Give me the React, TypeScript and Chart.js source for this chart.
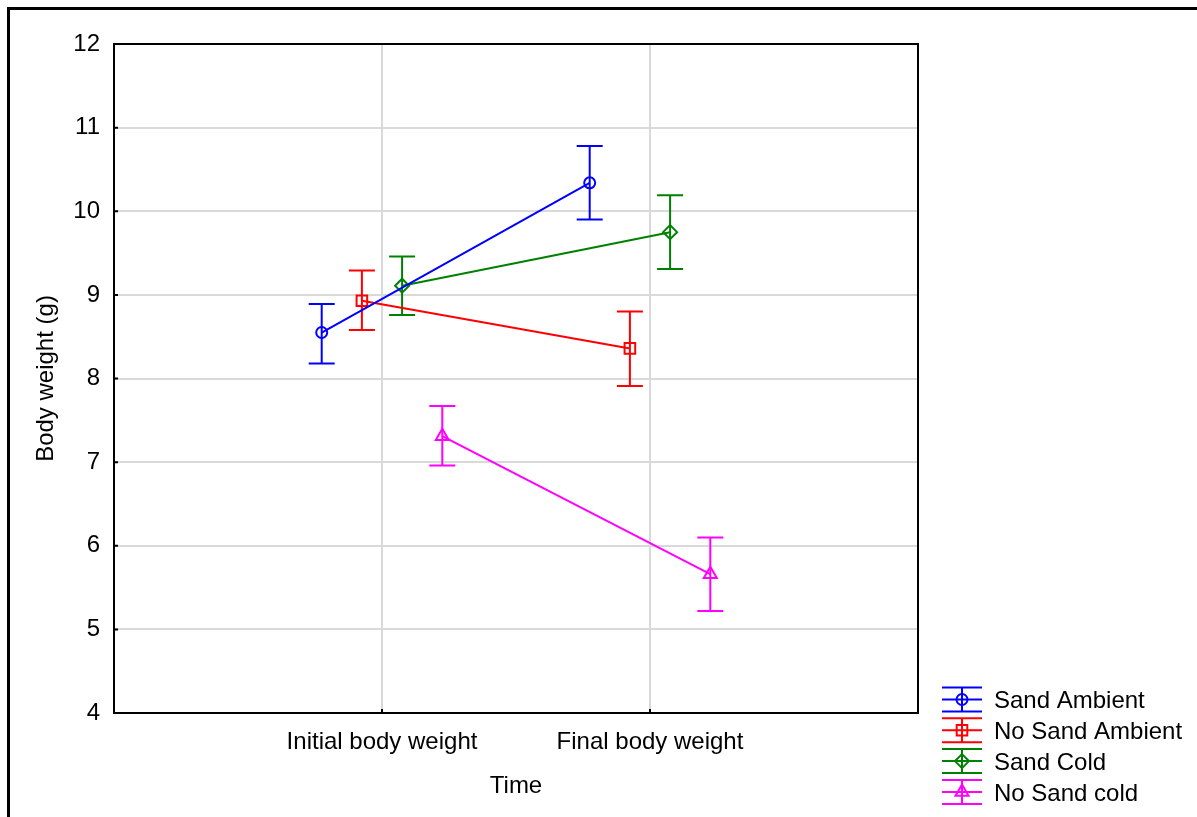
import React, { useEffect, useRef } from 'react';
import { Chart, registerables } from 'chart.js';

Chart.register(...registerables);

// ---------- data ----------
const timeLabels = ['Initial body weight', 'Final body weight'];
const timePositions = [1, 2];
const seriesNames = ['Sand Ambient', 'No Sand Ambient', 'Sand Cold', 'No Sand cold'];
const seriesOffsets = [-0.225, -0.075, 0.075, 0.225];

const sandAmbientMean = [8.55, 10.34];
const sandAmbientLow = [8.18, 9.9];
const sandAmbientHigh = [8.89, 10.78];

const noSandAmbientMean = [8.93, 8.36];
const noSandAmbientLow = [8.58, 7.91];
const noSandAmbientHigh = [9.29, 8.8];

const sandColdMean = [9.11, 9.75];
const sandColdLow = [8.76, 9.31];
const sandColdHigh = [9.46, 10.19];

const noSandColdMean = [7.31, 5.66];
const noSandColdLow = [6.96, 5.22];
const noSandColdHigh = [7.67, 6.1];

const yMin = 4;
const yMax = 12;
const xMin = 0;
const xMax = 3;

// ---------- styles ----------
const FONT = "'Liberation Sans', Arial, Helvetica, sans-serif";
const colors = ['#0000ff', '#ff0000', '#008000', '#ff00ff'];
const pointStyles = ['circle', 'rect', 'rectRot', 'triangle'];
const pointRadii = [5.5, 7.5, 7, 7.5];

const means = [sandAmbientMean, noSandAmbientMean, sandColdMean, noSandColdMean];
const lows = [sandAmbientLow, noSandAmbientLow, sandColdLow, noSandColdLow];
const highs = [sandAmbientHigh, noSandAmbientHigh, sandColdHigh, noSandColdHigh];

function drawMarker(ctx: CanvasRenderingContext2D, style: string, x: number, y: number) {
  ctx.beginPath();
  if (style === 'circle') {
    ctx.arc(x, y, 5.5, 0, Math.PI * 2);
  } else if (style === 'rect') {
    ctx.rect(x - 5.3, y - 5.3, 10.6, 10.6);
  } else if (style === 'rectRot') {
    ctx.moveTo(x, y - 7);
    ctx.lineTo(x + 7, y);
    ctx.lineTo(x, y + 7);
    ctx.lineTo(x - 7, y);
    ctx.closePath();
  } else {
    const r = 7.5;
    ctx.moveTo(x, y - r);
    ctx.lineTo(x + r * Math.sin((2 * Math.PI) / 3), y - r * Math.cos((2 * Math.PI) / 3));
    ctx.lineTo(x + r * Math.sin((4 * Math.PI) / 3), y - r * Math.cos((4 * Math.PI) / 3));
    ctx.closePath();
  }
  ctx.stroke();
}

const errorBarPlugin = {
  id: 'errorBars',
  beforeDatasetsDraw(chart: any) {
    const { ctx, scales } = chart;
    const xs = scales.x;
    const ys = scales.y;
    ctx.save();
    chart.data.datasets.forEach((ds: any, i: number) => {
      ds.data.forEach((p: any, j: number) => {
        const px = xs.getPixelForValue(p.x);
        const yl = ys.getPixelForValue(lows[i][j]);
        const yh = ys.getPixelForValue(highs[i][j]);
        ctx.strokeStyle = colors[i];
        ctx.lineWidth = 2;
        ctx.beginPath();
        ctx.moveTo(px, yl);
        ctx.lineTo(px, yh);
        ctx.moveTo(px - 13, yl);
        ctx.lineTo(px + 13, yl);
        ctx.moveTo(px - 13, yh);
        ctx.lineTo(px + 13, yh);
        ctx.stroke();
      });
    });
    ctx.restore();
  },
};

const framePlugin = {
  id: 'frameAndLegend',
  afterDraw(chart: any) {
    const { ctx, chartArea, scales } = chart;
    const { left, right, top, bottom } = chartArea;
    ctx.save();
    // inner ticks
    ctx.strokeStyle = '#000';
    ctx.lineWidth = 2;
    ctx.beginPath();
    for (let v = yMin; v <= yMax; v++) {
      const py = scales.y.getPixelForValue(v);
      ctx.moveTo(left, py);
      ctx.lineTo(left + 4, py);
    }
    timePositions.forEach((t) => {
      const px = scales.x.getPixelForValue(t);
      ctx.moveTo(px, bottom);
      ctx.lineTo(px, bottom - 4);
    });
    ctx.stroke();
    // plot border
    ctx.lineWidth = 2;
    ctx.strokeRect(left, top, right - left, bottom - top);
    // page frame
    ctx.lineWidth = 3;
    ctx.beginPath();
    ctx.moveTo(8.5, chart.height);
    ctx.lineTo(8.5, 8.5);
    ctx.lineTo(chart.width, 8.5);
    ctx.stroke();

    // legend
    const lx = right + 44;
    const rowH = 30.8;
    const y0 = bottom - 13.5;
    ctx.font = `24px ${FONT}`;
    ctx.textBaseline = 'middle';
    ctx.textAlign = 'left';
    seriesNames.forEach((name, i) => {
      const cy = y0 + i * rowH;
      ctx.strokeStyle = colors[i];
      ctx.lineWidth = 2;
      ctx.beginPath();
      ctx.moveTo(lx - 20, cy - 12);
      ctx.lineTo(lx + 20, cy - 12);
      ctx.moveTo(lx - 20, cy);
      ctx.lineTo(lx + 20, cy);
      ctx.moveTo(lx - 20, cy + 12);
      ctx.lineTo(lx + 20, cy + 12);
      ctx.moveTo(lx, cy - 12);
      ctx.lineTo(lx, cy + 12);
      ctx.stroke();
      drawMarker(ctx, pointStyles[i], lx, cy);
      ctx.fillStyle = '#000';
      ctx.fillText(name, lx + 32, cy + 2);
    });
    ctx.restore();
  },
};

export default function App() {
  const canvasRef = useRef<HTMLCanvasElement | null>(null);

  useEffect(() => {
    if (!canvasRef.current) return;
    const datasets = seriesNames.map((name, i) => ({
      label: name,
      data: timePositions.map((t, j) => ({ x: t + seriesOffsets[i], y: means[i][j] })),
      showLine: true,
      borderColor: colors[i],
      borderWidth: 2,
      backgroundColor: 'rgba(0,0,0,0)',
      pointStyle: pointStyles[i],
      pointRadius: pointRadii[i],
      pointBorderWidth: 2,
      pointBorderColor: colors[i],
      pointBackgroundColor: 'rgba(0,0,0,0)',
      pointHoverRadius: pointRadii[i],
    }));

    const chart = new Chart(canvasRef.current, {
      type: 'scatter',
      data: { datasets },
      options: {
        animation: false,
        responsive: false,
        events: [],
        layout: { padding: { left: 0, top: 44, right: 279, bottom: 0 } },
        plugins: {
          legend: { display: false },
          tooltip: { enabled: false },
          title: { display: false },
        },
        scales: {
          x: {
            type: 'linear',
            min: xMin,
            max: xMax,
            afterFit: (scale: any) => {
              scale.height = 104;
            },
            afterBuildTicks: (scale: any) => {
              scale.ticks = [xMin, ...timePositions, xMax].map((v) => ({ value: v }));
            },
            ticks: {
              stepSize: 1,
              autoSkip: false,
              maxRotation: 0,
              minRotation: 0,
              padding: 15,
              color: '#000',
              font: { family: FONT, size: 24 },
              callback: (value: any) => {
                const idx = timePositions.indexOf(Number(value));
                return idx >= 0 ? timeLabels[idx] : '';
              },
            },
            grid: {
              drawTicks: false,
              lineWidth: 2,
              color: (c: any) =>
                c.tick && timePositions.includes(c.tick.value) ? '#d9d9d9' : 'rgba(0,0,0,0)',
            },
            border: { display: false },
            title: {
              display: true,
              text: 'Time',
              color: '#000',
              font: { family: FONT, size: 24 },
              padding: { top: 15, bottom: 16 },
            },
          },
          y: {
            type: 'linear',
            min: yMin,
            max: yMax,
            afterFit: (scale: any) => {
              scale.width = 114;
            },
            ticks: {
              stepSize: 1,
              padding: 14,
              color: '#000',
              font: { family: FONT, size: 24 },
            },
            grid: {
              drawTicks: false,
              lineWidth: 2,
              color: (c: any) =>
                c.tick && c.tick.value > yMin && c.tick.value < yMax ? '#d9d9d9' : 'rgba(0,0,0,0)',
            },
            border: { display: false },
            title: {
              display: true,
              text: 'Body weight (g)',
              color: '#000',
              font: { family: FONT, size: 24 },
              padding: { top: 32, bottom: 0 },
            },
          },
        },
      },
      plugins: [errorBarPlugin, framePlugin],
    } as any);

    return () => chart.destroy();
  }, []);

  return (
    <div style={{ position: 'fixed', left: 0, top: 0, width: 1197, height: 817, background: '#fff' }}>
      <canvas ref={canvasRef} width={1197} height={817} style={{ display: 'block' }} />
    </div>
  );
}
